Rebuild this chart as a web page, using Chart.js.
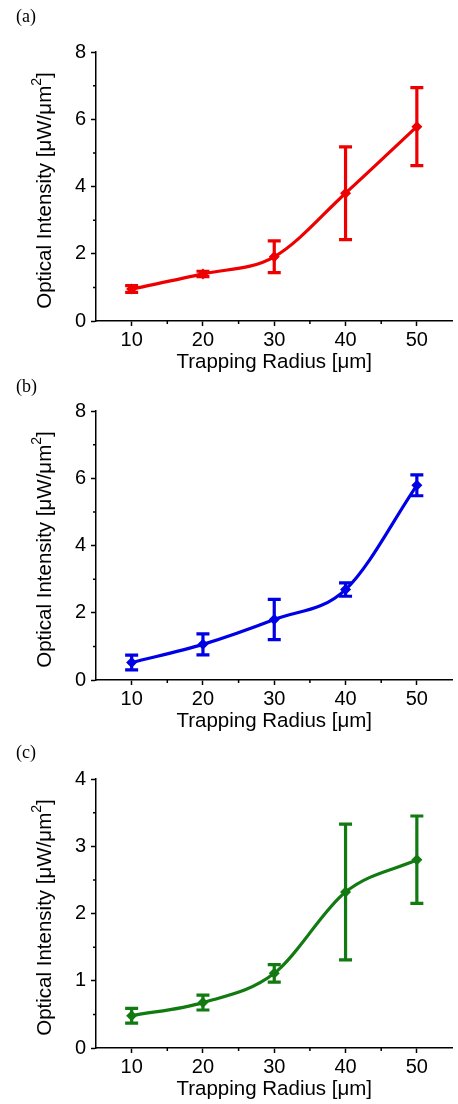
<!DOCTYPE html>
<html>
<head>
<meta charset="utf-8">
<script src="https://cdn.jsdelivr.net/npm/chart.js@4/dist/chart.umd.min.js"></script>
<style>
body{margin:0;background:#fff;width:458px;height:1104px;position:relative;overflow:hidden;}
.panel{position:absolute;left:0;width:458px;height:375px;}
.tag{position:absolute;left:16px;font:18px "Liberation Serif","Times New Roman",serif;color:#000;line-height:1;}
</style>
</head>
<body>
<div class="panel" style="top:0"><canvas id="chartA" width="458" height="375"></canvas></div>
<div class="panel" style="top:359px"><canvas id="chartB" width="458" height="375"></canvas></div>
<div class="panel" style="top:727px"><canvas id="chartC" width="458" height="375"></canvas></div>
<div class="tag" style="top:7px">(a)</div>
<div class="tag" style="top:377px">(b)</div>
<div class="tag" style="top:743px">(c)</div>
<script>
// trapping radius (um) and tick positions
const radius=[10,20,30,40,50];
const xTicks=[10,20,30,40,50];
const xMinor=[15,25,35,45];

// (a) red
const intensityA=[0.95,1.40,1.91,3.80,5.78];
const errA=[0.10,0.08,0.47,1.38,1.16];
// (b) blue
const intensityB=[0.52,1.06,1.80,2.69,5.79];
const errB=[0.22,0.31,0.60,0.20,0.31];
// (c) green
const intensityC=[0.48,0.675,1.11,2.32,2.80];
const errC=[0.11,0.11,0.13,1.01,0.65];

const yTicksAB=[0,2,4,6,8], yMinorAB=[1,3,5,7];
const yTicksC=[0,1,2,3,4], yMinorC=[0.5,1.5,2.5,3.5];

const FONT="'Liberation Sans', Arial, sans-serif";

// vertical error bars with caps
const errorBars={id:"errorBars",afterDatasetsDraw(chart){
  const ctx=chart.ctx, x=chart.scales.x, y=chart.scales.y;
  chart.data.datasets.forEach(ds=>{
    if(!ds.err) return;
    ctx.save(); ctx.strokeStyle=ds.borderColor; ctx.lineWidth=3.2;
    ds.data.forEach((p,i)=>{
      const px=x.getPixelForValue(p.x), top=y.getPixelForValue(p.y+ds.err[i]), bot=y.getPixelForValue(p.y-ds.err[i]);
      ctx.beginPath();
      ctx.moveTo(px,top); ctx.lineTo(px,bot);
      ctx.moveTo(px-6.5,top); ctx.lineTo(px+6.5,top);
      ctx.moveTo(px-6.5,bot); ctx.lineTo(px+6.5,bot);
      ctx.stroke();
    });
    ctx.restore();
  });
}};

// short minor ticks outside the axes
const minorTicks={id:"minorTicks",afterDraw(chart,args,o){
  const {ctx,chartArea:a,scales:{x,y}}=chart;
  ctx.save(); ctx.strokeStyle="#000"; ctx.lineWidth=1.5; ctx.beginPath();
  (o.x||[]).forEach(v=>{const px=x.getPixelForValue(v); ctx.moveTo(px,a.bottom); ctx.lineTo(px,a.bottom+3);});
  (o.y||[]).forEach(v=>{const py=y.getPixelForValue(v); ctx.moveTo(a.left,py); ctx.lineTo(a.left-3,py);});
  ctx.stroke(); ctx.restore();
}};

// y title with a raised "2"
const yTitle={id:"yTitle",afterDraw(chart){
  const ctx=chart.ctx, a=chart.chartArea;
  const main="Optical Intensity [μW/μm", sup="2", end="]";
  ctx.save();
  ctx.translate(45,(a.top+a.bottom)/2+4);
  ctx.rotate(-Math.PI/2);
  ctx.fillStyle="#000"; ctx.textBaseline="middle";
  ctx.font="20.5px "+FONT; const w1=ctx.measureText(main).width, w3=ctx.measureText(end).width;
  ctx.font="14px "+FONT; const w2=ctx.measureText(sup).width;
  let x0=-(w1+w2+w3)/2;
  ctx.font="20.5px "+FONT; ctx.fillText(main,x0,0);
  ctx.font="14px "+FONT; ctx.fillText(sup,x0+w1,-8);
  ctx.font="20.5px "+FONT; ctx.fillText(end,x0+w1+w2,0);
  ctx.restore();
}};

function makeChart(id,values,errs,color,yTicks,yMinor){
  return new Chart(document.getElementById(id),{
    type:"line",
    data:{datasets:[{
      data:radius.map((r,i)=>({x:r,y:values[i]})),
      err:errs,
      borderColor:color, backgroundColor:color,
      borderWidth:3.2, cubicInterpolationMode:"monotone",
      pointStyle:"rectRot", pointRadius:5.5, pointBorderWidth:0
    }]},
    options:{
      responsive:false, animation:false,
      layout:{padding:{top:52,right:1,left:0,bottom:0}},
      plugins:{legend:{display:false},tooltip:{enabled:false},minorTicks:{x:xMinor,y:yMinor}},
      scales:{
        x:{type:"linear",min:5,max:55,
          afterBuildTicks:s=>{s.ticks=xTicks.map(v=>({value:v}));},
          afterFit:s=>{s.height=54;},
          grid:{drawOnChartArea:false,tickLength:5,tickWidth:1.5,tickColor:"#000"},
          border:{color:"#000",width:1.5},
          ticks:{color:"#000",padding:2,font:{family:FONT,size:20}},
          title:{display:true,text:"Trapping Radius [μm]",color:"#000",padding:{top:0,bottom:0},font:{family:FONT,size:20.5}}
        },
        y:{min:yTicks[0],max:yTicks[yTicks.length-1],
          afterBuildTicks:s=>{s.ticks=yTicks.map(v=>({value:v}));},
          afterFit:s=>{s.width=96;},
          grid:{drawOnChartArea:false,tickLength:5,tickWidth:1.5,tickColor:"#000"},
          border:{color:"#000",width:1.5},
          ticks:{color:"#000",padding:5,font:{family:FONT,size:20}}
        }
      }
    },
    plugins:[errorBars,minorTicks,yTitle]
  });
}

makeChart("chartA",intensityA,errA,"#ee0000",yTicksAB,yMinorAB);
makeChart("chartB",intensityB,errB,"#0000e6",yTicksAB,yMinorAB);
makeChart("chartC",intensityC,errC,"#117a11",yTicksC,yMinorC);
</script>
</body>
</html>
